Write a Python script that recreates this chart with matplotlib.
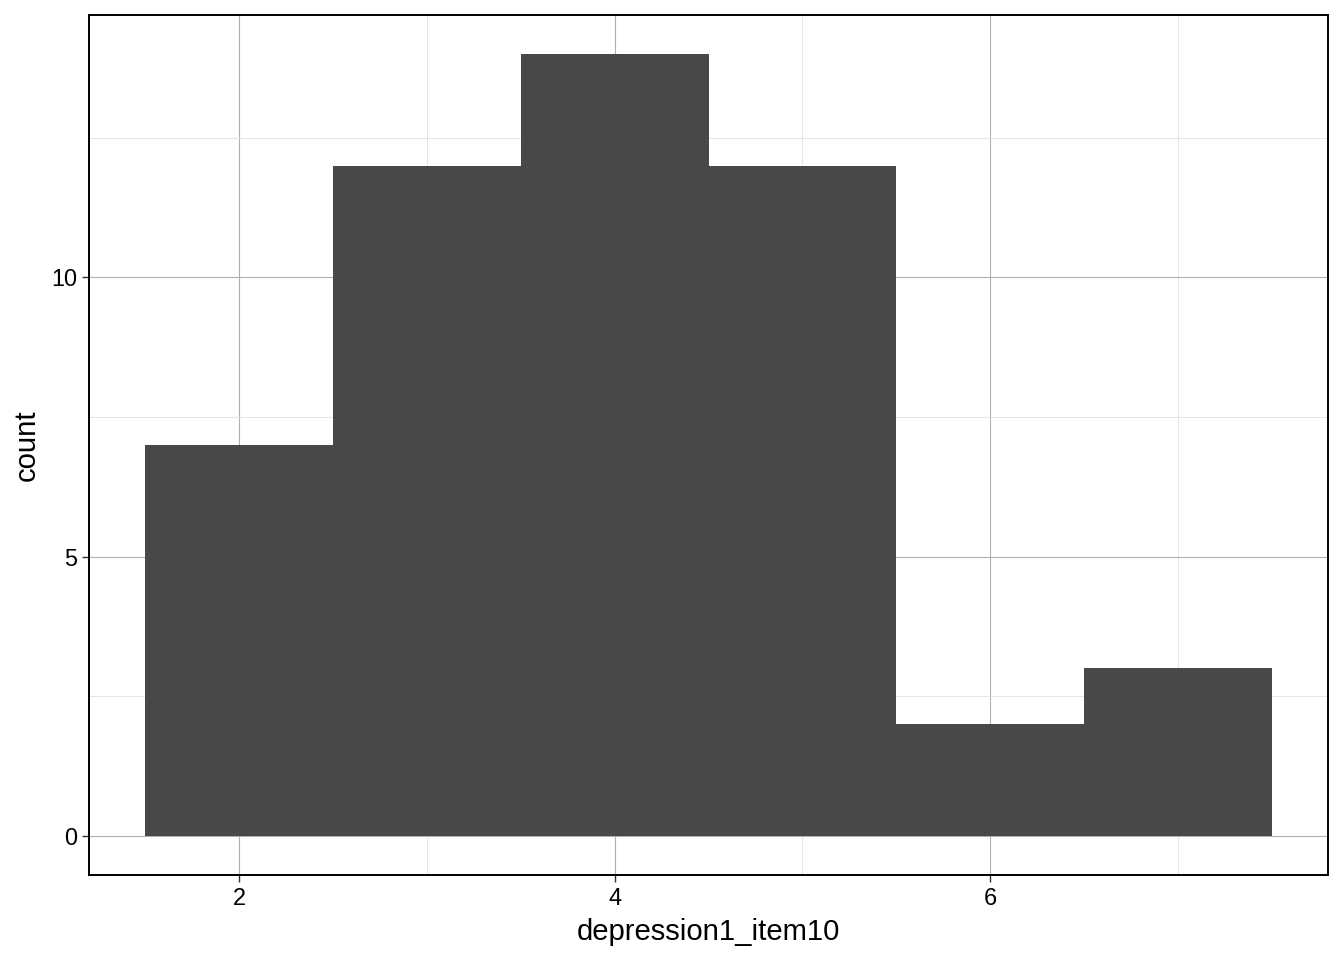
import matplotlib
matplotlib.use("Agg")
import matplotlib.pyplot as plt

values = [2, 3, 4, 5, 6, 7]
counts = [7, 12, 14, 12, 2, 3]
x_ticks = [2, 4, 6]
y_ticks = [0, 5, 10]
x_minor = [3, 5, 7]
y_minor = [2.5, 7.5, 12.5]

plt.rcParams['font.family'] = ['Liberation Sans', 'DejaVu Sans']

fig = plt.figure(figsize=(13.44, 9.6), dpi=100)
ax = fig.add_axes([89/1344, 85/960, (1328-89)/1344, (875-15)/960])

ax.bar(values, counts, width=1.0, color='#484848', zorder=2, linewidth=0)

ax.set_xlim(1.2, 7.8)
ax.set_ylim(-0.7, 14.7)
ax.set_xticks(x_ticks)
ax.set_yticks(y_ticks)
ax.set_xticks(x_minor, minor=True)
ax.set_yticks(y_minor, minor=True)
ax.tick_params(which='minor', length=0)
ax.tick_params(which='major', length=5.3, width=1.0, color='#333333', labelsize=16.9, labelcolor='black', pad=3)
ax.grid(True, which='major', color='#b0b0b0', linewidth=0.8, zorder=0)
ax.grid(True, which='minor', color='#e0e0e0', linewidth=0.6, zorder=0)
ax.set_axisbelow(True)
for s in ax.spines.values():
    s.set_linewidth(1.4)
    s.set_color('black')

ax.set_xlabel('depression1_item10', fontsize=21.1, labelpad=6)
ax.set_ylabel('count', fontsize=21.1, labelpad=8)

fig.savefig('out.png', dpi=100)
